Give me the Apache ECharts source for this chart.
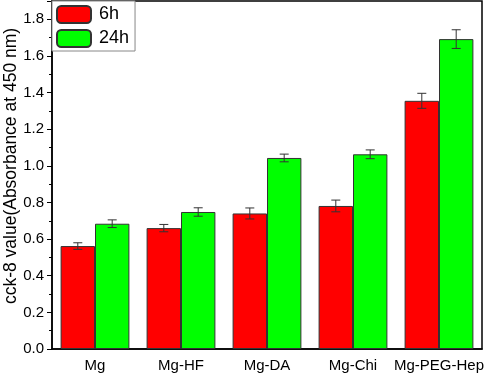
<!DOCTYPE html>
<html>
<head>
<meta charset="utf-8">
<script src="https://cdn.jsdelivr.net/npm/echarts@6/dist/echarts.min.js"></script>
<style>
html, body { margin: 0; padding: 0; background: #fff; }
#chart { width: 484px; height: 374px; }
</style>
</head>
<body>
<div id="chart"></div>
<script>
var categories = ['Mg', 'Mg-HF', 'Mg-DA', 'Mg-Chi', 'Mg-PEG-Hep'];
var values6h = [0.562, 0.660, 0.740, 0.781, 1.355];
var err6h = [0.018, 0.020, 0.030, 0.032, 0.041];
var values24h = [0.684, 0.748, 1.043, 1.063, 1.692];
var err24h = [0.021, 0.023, 0.021, 0.024, 0.051];

function errData(vals, errs) {
    return vals.map(function (v, i) {
        return [i, v - errs[i], v + errs[i]];
    });
}

function errRender(side) {
    return function (params, api) {
        var band = api.size([1, 0])[0];
        var off = side * band * 0.2;
        var lo = api.coord([api.value(0), api.value(1)]);
        var hi = api.coord([api.value(0), api.value(2)]);
        var x = lo[0] + off;
        var cap = 4.5;
        var style = { stroke: '#333', lineWidth: 1 };
        return {
            type: 'group',
            children: [
                { type: 'line', shape: { x1: x, y1: lo[1], x2: x, y2: hi[1] }, style: style },
                { type: 'line', shape: { x1: x - cap, y1: lo[1], x2: x + cap, y2: lo[1] }, style: style },
                { type: 'line', shape: { x1: x - cap, y1: hi[1], x2: x + cap, y2: hi[1] }, style: style }
            ]
        };
    };
}

var chart = echarts.init(document.getElementById('chart'));
var option = {
    animation: false,
    textStyle: { fontFamily: 'Liberation Sans, Arial, sans-serif' },
    grid: {
        left: 52,
        right: 2,
        top: 1,
        bottom: 25,
        containLabel: false,
        outerBoundsMode: 'none',
        show: true,
        borderColor: '#000',
        borderWidth: 1.5
    },
    legend: {
        orient: 'vertical',
        left: 52,
        top: 1,
        padding: [4, 6, 3, 4],
        itemGap: 5,
        itemWidth: 34,
        itemHeight: 17,
        borderColor: '#888',
        borderWidth: 1,
        backgroundColor: '#fff',
        textStyle: { fontSize: 18, color: '#000', padding: [0, 0, 0, 3] },
        data: ['6h', '24h']
    },
    xAxis: [{
        type: 'category',
        data: categories,
        axisLine: { lineStyle: { color: '#000', width: 1.5 } },
        axisTick: { alignWithLabel: true, length: 6, lineStyle: { color: '#000' } },
        axisLabel: { fontSize: 15, color: '#000', margin: 9, interval: 0, hideOverlap: false }
    }, {
        type: 'category',
        data: categories,
        position: 'bottom',
        axisLine: { show: false },
        axisTick: { length: 3, lineStyle: { color: '#000' } },
        axisLabel: { show: false }
    }],
    yAxis: {
        type: 'value',
        min: 0,
        max: 1.9,
        interval: 0.2,
        name: 'cck-8 value(Absorbance at 450 nm)',
        nameLocation: 'middle',
        nameGap: 32,
        nameMoveOverlap: false,
        nameTextStyle: { fontSize: 17.5, color: '#000', padding: [0, 0, 0, 18] },
        axisLine: { show: true, lineStyle: { color: '#000', width: 1.5 } },
        axisTick: { show: true, length: 5, lineStyle: { color: '#000' } },
        minorTick: { show: true, splitNumber: 2, length: 3, lineStyle: { color: '#000' } },
        splitLine: { show: false },
        axisLabel: {
            fontSize: 15,
            color: '#000',
            margin: 8,
            showMaxLabel: false,
            formatter: function (v) { return v.toFixed(1); }
        }
    },
    series: [{
        name: '6h',
        type: 'bar',
        data: values6h,
        barWidth: '40%',
        barGap: '0%',
        itemStyle: { color: '#ff0000', borderColor: '#333', borderWidth: 1 }
    }, {
        name: '24h',
        type: 'bar',
        data: values24h,
        barWidth: '40%',
        barGap: '0%',
        itemStyle: { color: '#00ff00', borderColor: '#333', borderWidth: 1 }
    }, {
        type: 'custom',
        renderItem: errRender(-1),
        data: errData(values6h, err6h),
        z: 10
    }, {
        type: 'custom',
        renderItem: errRender(1),
        data: errData(values24h, err24h),
        z: 10
    }]
};
chart.setOption(option);
</script>
</body>
</html>
